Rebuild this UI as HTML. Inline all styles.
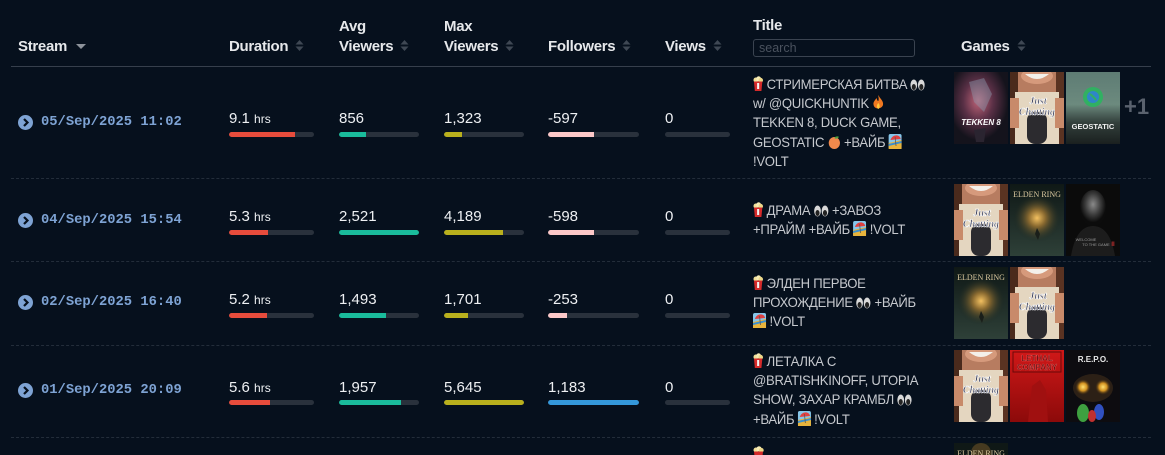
<!DOCTYPE html>
<html><head><meta charset="utf-8">
<style>
*{margin:0;padding:0;box-sizing:border-box}
html,body{width:1165px;height:455px;overflow:hidden;background:#06101d}
body{position:relative;font-family:"Liberation Sans","Noto Sans CJK SC",sans-serif;color:#e8eaed}
.a{position:absolute}
.h{position:absolute;font-weight:bold;font-size:15px;line-height:20px;color:#e6e8eb;white-space:nowrap;letter-spacing:-0.3px}
.si{display:inline-block;width:9px;height:13px;margin-left:7px;vertical-align:-1px}
.hl{position:absolute;left:11px;width:1140px;height:1px;background:#363f4c;top:66px}
.sep{position:absolute;left:11px;width:1140px;height:0;border-top:1px dashed #232d3a}
.dt{position:absolute;left:41px;font-family:"Liberation Mono",monospace;font-weight:bold;font-size:13.8px;line-height:16px;color:#7ea3d4;white-space:nowrap}
.ic{position:absolute;left:18px;width:15px;height:15px;border-radius:50%;background:#7ea3d4}
.ic svg{position:absolute;left:0;top:0}
.v{position:absolute;font-size:15px;line-height:18px;color:#eef0f3;white-space:nowrap}
.v small{font-size:12px}
.b{position:absolute;height:5px;border-radius:3px;background:#29313c;overflow:hidden}
.b i{display:block;height:5px;border-radius:3px 0 0 3px}
.t{position:absolute;left:753px;font-size:14px;line-height:19.2px;color:#c6c9ce;white-space:nowrap;letter-spacing:-0.3px;transform:scaleX(0.935);transform-origin:0 0}
.t svg{vertical-align:-2px}
.g{position:absolute;width:54px;height:72px;overflow:hidden}
.g svg{display:block}
</style></head><body>

<!-- header -->
<div class="h" style="left:18px;top:37px">Stream<svg class="si" style="width:11px;margin-left:9px" viewBox="0 0 11 13"><path d="M0 5 L10 5 L5 10 Z" fill="#8d939b"/></svg></div>
<div class="h" style="left:229px;top:37px">Duration<svg class="si" viewBox="0 0 9 13"><path d="M0.5 5.5 L8.5 5.5 L4.5 1 Z M0.5 7.5 L8.5 7.5 L4.5 12 Z" fill="#3f4854"/></svg></div>
<div class="h" style="left:339px;top:17px">Avg</div>
<div class="h" style="left:339px;top:37px">Viewers<svg class="si" viewBox="0 0 9 13"><path d="M0.5 5.5 L8.5 5.5 L4.5 1 Z M0.5 7.5 L8.5 7.5 L4.5 12 Z" fill="#3f4854"/></svg></div>
<div class="h" style="left:444px;top:17px">Max</div>
<div class="h" style="left:444px;top:37px">Viewers<svg class="si" viewBox="0 0 9 13"><path d="M0.5 5.5 L8.5 5.5 L4.5 1 Z M0.5 7.5 L8.5 7.5 L4.5 12 Z" fill="#3f4854"/></svg></div>
<div class="h" style="left:548px;top:37px">Followers<svg class="si" viewBox="0 0 9 13"><path d="M0.5 5.5 L8.5 5.5 L4.5 1 Z M0.5 7.5 L8.5 7.5 L4.5 12 Z" fill="#3f4854"/></svg></div>
<div class="h" style="left:665px;top:37px">Views<svg class="si" viewBox="0 0 9 13"><path d="M0.5 5.5 L8.5 5.5 L4.5 1 Z M0.5 7.5 L8.5 7.5 L4.5 12 Z" fill="#3f4854"/></svg></div>
<div class="h" style="left:753px;top:16px">Title</div>
<div class="a" style="left:753px;top:39px;width:162px;height:18px;border:1px solid #3a4350;border-radius:3px;font-size:12.5px;line-height:16px;color:#4a525e;padding-left:5px">search</div>
<div class="h" style="left:961px;top:37px">Games<svg class="si" viewBox="0 0 9 13"><path d="M0.5 5.5 L8.5 5.5 L4.5 1 Z M0.5 7.5 L8.5 7.5 L4.5 12 Z" fill="#3f4854"/></svg></div>
<div class="hl"></div>

<!-- separators -->
<div class="sep" style="top:178px"></div>
<div class="sep" style="top:261px"></div>
<div class="sep" style="top:345px"></div>
<div class="sep" style="top:437px"></div>

<!-- ===== ROW 1 (center 122) ===== -->
<div class="ic" style="top:115px"><svg width="15" height="15" viewBox="0 0 15 15"><path d="M6 4 L9.5 7.5 L6 11" stroke="#06101d" stroke-width="2.2" fill="none"/></svg></div>
<div class="dt" style="top:115px">05/Sep/2025 11:02</div>
<div class="v" style="left:229px;top:110px">9.1 <small>hrs</small></div>
<div class="b" style="left:229px;top:132px;width:85px"><i style="width:78%;background:#e74c3c"></i></div>
<div class="v" style="left:339px;top:110px">856</div>
<div class="b" style="left:339px;top:132px;width:80px"><i style="width:34%;background:#1abc9c"></i></div>
<div class="v" style="left:444px;top:110px">1,323</div>
<div class="b" style="left:444px;top:132px;width:80px"><i style="width:23%;background:#b9b01d"></i></div>
<div class="v" style="left:548px;top:110px">-597</div>
<div class="b" style="left:548px;top:132px;width:91px"><i style="width:50%;background:#fcc8c8"></i></div>
<div class="v" style="left:665px;top:110px">0</div>
<div class="b" style="left:665px;top:132px;width:65px"></div>

<div class="t" style="top:75px">
<svg width="11" height="15" viewBox="0 0 11 15"><circle cx="3" cy="4" r="2.5" fill="#f1e09a"/><circle cx="6" cy="2.8" r="2.6" fill="#f7ecb6"/><circle cx="8.3" cy="4.3" r="2.4" fill="#ecd88a"/><path d="M1 5.5 L10 5.5 L9 15 L2 15 Z" fill="#d42a2a"/><rect x="4.4" y="7" width="2.2" height="6" fill="#f2f2f2"/></svg> СТРИМЕРСКАЯ БИТВА <svg width="16" height="12" viewBox="0 0 16 12"><ellipse cx="4" cy="6" rx="3.6" ry="5.5" fill="#d8d8d8"/><ellipse cx="12" cy="6" rx="3.6" ry="5.5" fill="#d8d8d8"/><ellipse cx="4" cy="8" rx="2.2" ry="3" fill="#222"/><ellipse cx="12" cy="8" rx="2.2" ry="3" fill="#222"/></svg><br>
w/ @QUICKHUNTIK <svg width="12" height="15" viewBox="0 0 12 15"><path d="M6 0 C8 4 12 6 11 10 C10 14 2 15 1 10 C0 7 3 5 4 3 C5 5 5 6 6 6 C7 4 6 2 6 0 Z" fill="#f07820"/><path d="M6 8 C8 10 8 13 6 14 C4 13 4 10 6 8 Z" fill="#ffc83a"/></svg><br>
TEKKEN 8, DUCK GAME,<br>
GEOSTATIC <svg width="14" height="14" viewBox="0 0 14 14"><circle cx="7" cy="8" r="6" fill="#f0894c"/><path d="M7 3 C8 1 11 1 12 2 C10 4 8 4 7 3 Z" fill="#4fa040"/></svg> +ВАЙБ <svg width="14" height="15" viewBox="0 0 14 15"><rect x="0" y="0" width="14" height="15" rx="2" fill="#86c6ea"/><path d="M0 9 L14 6 L14 15 L0 15 Z" fill="#e8b43c"/><path d="M0 10 L14 7 L14 9 L0 12 Z" fill="#3a8fd0"/><path d="M2 6 C4 0 12 0 13 5 Z" fill="#e04040"/><path d="M7 3 L8 12" stroke="#555" stroke-width="0.8"/></svg><br>
!VOLT
</div>

<div class="g" style="left:954px;top:72px"><svg width="54" height="72" viewBox="0 0 54 72"><defs><radialGradient id="tk" cx="0.45" cy="0.4" r="0.55"><stop offset="0" stop-color="#c06478"/><stop offset="0.5" stop-color="#5a3046"/><stop offset="1" stop-color="#14131c"/></radialGradient></defs><rect width="54" height="72" fill="url(#tk)"/><path d="M15 10 L30 6 L38 22 L30 40 L20 30 Z" fill="#8b9aac" opacity="0.45"/><text x="27" y="53" font-family="Liberation Sans" font-weight="bold" font-style="italic" font-size="8" fill="#ffffff" text-anchor="middle">TEKKEN 8</text><path d="M20 58 L32 56 L30 70 L22 70 Z" fill="#2a2430"/></svg></div>
<div class="g" style="left:1010px;top:72px"><svg width="54" height="72" viewBox="0 0 54 72"><rect width="54" height="72" fill="#b77c60"/><rect width="8" height="72" fill="#4a2a1c"/><rect x="46" width="8" height="72" fill="#5a3322"/><ellipse cx="27" cy="4" rx="16" ry="8" fill="#d69a7c"/><path d="M15 2 Q27 12 39 2 Z" fill="#f4f0ea"/><rect x="5" y="20" width="44" height="52" fill="#e4d6c0"/><rect x="0" y="26" width="9" height="30" fill="#c88a6a"/><rect x="45" y="26" width="9" height="30" fill="#c88a6a"/><rect x="17" y="40" width="20" height="32" rx="8" fill="#2c2b2f"/><text x="28" y="32" font-family="Liberation Serif" font-style="italic" font-weight="bold" font-size="10" fill="#2a3050" stroke="#ffffff" stroke-width="0.5" text-anchor="middle">Just</text><text x="27" y="43" font-family="Liberation Serif" font-style="italic" font-weight="bold" font-size="10" fill="#2a3050" stroke="#ffffff" stroke-width="0.5" text-anchor="middle">Chatting</text></svg></div>
<div class="g" style="left:1066px;top:72px"><svg width="54" height="72" viewBox="0 0 54 72"><defs><linearGradient id="geo" x1="0" y1="0" x2="0" y2="1"><stop offset="0" stop-color="#5e7c74"/><stop offset="0.45" stop-color="#6c8a7e"/><stop offset="0.7" stop-color="#33403c"/><stop offset="1" stop-color="#1a201f"/></linearGradient></defs><rect width="54" height="72" fill="url(#geo)"/><circle cx="27" cy="25" r="10" fill="#31b062"/><circle cx="27" cy="25" r="6" fill="#2f86c8"/><path d="M24 22 Q28 25 30 28" stroke="#31b062" stroke-width="2" fill="none"/><text x="27" y="57" font-family="Liberation Sans" font-weight="bold" font-size="7.5" fill="#f0f0f0" text-anchor="middle">GEOSTATIC</text></svg></div>
<div class="a" style="left:1124px;top:94px;font-size:22px;line-height:26px;font-weight:bold;color:#5a626e">+1</div>

<!-- ===== ROW 2 (center 220) ===== -->
<div class="ic" style="top:213px"><svg width="15" height="15" viewBox="0 0 15 15"><path d="M6 4 L9.5 7.5 L6 11" stroke="#06101d" stroke-width="2.2" fill="none"/></svg></div>
<div class="dt" style="top:213px">04/Sep/2025 15:54</div>
<div class="v" style="left:229px;top:208px">5.3 <small>hrs</small></div>
<div class="b" style="left:229px;top:230px;width:85px"><i style="width:46%;background:#e74c3c"></i></div>
<div class="v" style="left:339px;top:208px">2,521</div>
<div class="b" style="left:339px;top:230px;width:80px"><i style="width:100%;background:#1abc9c;border-radius:3px"></i></div>
<div class="v" style="left:444px;top:208px">4,189</div>
<div class="b" style="left:444px;top:230px;width:80px"><i style="width:74%;background:#b9b01d"></i></div>
<div class="v" style="left:548px;top:208px">-598</div>
<div class="b" style="left:548px;top:230px;width:91px"><i style="width:50%;background:#fcc8c8"></i></div>
<div class="v" style="left:665px;top:208px">0</div>
<div class="b" style="left:665px;top:230px;width:65px"></div>

<div class="t" style="top:201px">
<svg width="11" height="15" viewBox="0 0 11 15"><circle cx="3" cy="4" r="2.5" fill="#f1e09a"/><circle cx="6" cy="2.8" r="2.6" fill="#f7ecb6"/><circle cx="8.3" cy="4.3" r="2.4" fill="#ecd88a"/><path d="M1 5.5 L10 5.5 L9 15 L2 15 Z" fill="#d42a2a"/><rect x="4.4" y="7" width="2.2" height="6" fill="#f2f2f2"/></svg> ДРАМА <svg width="16" height="12" viewBox="0 0 16 12"><ellipse cx="4" cy="6" rx="3.6" ry="5.5" fill="#d8d8d8"/><ellipse cx="12" cy="6" rx="3.6" ry="5.5" fill="#d8d8d8"/><ellipse cx="4" cy="8" rx="2.2" ry="3" fill="#222"/><ellipse cx="12" cy="8" rx="2.2" ry="3" fill="#222"/></svg> +ЗАВОЗ<br>
+ПРАЙМ +ВАЙБ <svg width="14" height="15" viewBox="0 0 14 15"><rect x="0" y="0" width="14" height="15" rx="2" fill="#86c6ea"/><path d="M0 9 L14 6 L14 15 L0 15 Z" fill="#e8b43c"/><path d="M0 10 L14 7 L14 9 L0 12 Z" fill="#3a8fd0"/><path d="M2 6 C4 0 12 0 13 5 Z" fill="#e04040"/><path d="M7 3 L8 12" stroke="#555" stroke-width="0.8"/></svg> !VOLT
</div>

<div class="g" style="left:954px;top:184px"><svg width="54" height="72" viewBox="0 0 54 72"><rect width="54" height="72" fill="#b77c60"/><rect width="8" height="72" fill="#4a2a1c"/><rect x="46" width="8" height="72" fill="#5a3322"/><ellipse cx="27" cy="4" rx="16" ry="8" fill="#d69a7c"/><path d="M15 2 Q27 12 39 2 Z" fill="#f4f0ea"/><rect x="5" y="20" width="44" height="52" fill="#e4d6c0"/><rect x="0" y="26" width="9" height="30" fill="#c88a6a"/><rect x="45" y="26" width="9" height="30" fill="#c88a6a"/><rect x="17" y="40" width="20" height="32" rx="8" fill="#2c2b2f"/><text x="28" y="32" font-family="Liberation Serif" font-style="italic" font-weight="bold" font-size="10" fill="#2a3050" stroke="#ffffff" stroke-width="0.5" text-anchor="middle">Just</text><text x="27" y="43" font-family="Liberation Serif" font-style="italic" font-weight="bold" font-size="10" fill="#2a3050" stroke="#ffffff" stroke-width="0.5" text-anchor="middle">Chatting</text></svg></div>
<div class="g" style="left:1010px;top:184px"><svg width="54" height="72" viewBox="0 0 54 72"><defs><radialGradient id="er1" cx="0.5" cy="0.5" r="0.5"><stop offset="0" stop-color="#f3c060"/><stop offset="0.35" stop-color="#8a6a30"/><stop offset="1" stop-color="#17241f" stop-opacity="0"/></radialGradient><linearGradient id="erb" x1="0" y1="0" x2="0" y2="1"><stop offset="0" stop-color="#0f1816"/><stop offset="1" stop-color="#2e4038"/></linearGradient></defs><rect width="54" height="72" fill="url(#erb)"/><circle cx="27" cy="34" r="24" fill="url(#er1)"/><text x="27" y="13" font-family="Liberation Serif" font-size="8" fill="#dccaa0" text-anchor="middle">ELDEN RING</text><path d="M25 50 L27 44 L30 50 L28 56 Z" fill="#1a1f1a"/></svg></div>
<div class="g" style="left:1066px;top:184px"><svg width="54" height="72" viewBox="0 0 54 72"><defs><radialGradient id="wf" cx="0.5" cy="0.4" r="0.5"><stop offset="0" stop-color="#8a8a8a"/><stop offset="0.6" stop-color="#3a3a3a"/><stop offset="1" stop-color="#0c0c0c"/></radialGradient></defs><rect width="54" height="72" fill="#0b0b0b"/><ellipse cx="27" cy="24" rx="13" ry="18" fill="url(#wf)"/><path d="M5 72 Q10 42 27 42 Q44 42 49 72 Z" fill="#1c1c1c"/><text x="20" y="57" font-family="Liberation Sans" font-size="4" fill="#9a9a9a" text-anchor="middle">WELCOME</text><text x="30" y="62" font-family="Liberation Sans" font-size="4" fill="#9a9a9a" text-anchor="middle">TO THE GAME</text><text x="47" y="62" font-family="Liberation Sans" font-weight="bold" font-size="6" fill="#c03030" text-anchor="middle">II</text></svg></div>

<!-- ===== ROW 3 (center 303) ===== -->
<div class="ic" style="top:295px"><svg width="15" height="15" viewBox="0 0 15 15"><path d="M6 4 L9.5 7.5 L6 11" stroke="#06101d" stroke-width="2.2" fill="none"/></svg></div>
<div class="dt" style="top:295px">02/Sep/2025 16:40</div>
<div class="v" style="left:229px;top:291px">5.2 <small>hrs</small></div>
<div class="b" style="left:229px;top:313px;width:85px"><i style="width:45%;background:#e74c3c"></i></div>
<div class="v" style="left:339px;top:291px">1,493</div>
<div class="b" style="left:339px;top:313px;width:80px"><i style="width:59%;background:#1abc9c"></i></div>
<div class="v" style="left:444px;top:291px">1,701</div>
<div class="b" style="left:444px;top:313px;width:80px"><i style="width:30%;background:#b9b01d"></i></div>
<div class="v" style="left:548px;top:291px">-253</div>
<div class="b" style="left:548px;top:313px;width:91px"><i style="width:21%;background:#fcc8c8"></i></div>
<div class="v" style="left:665px;top:291px">0</div>
<div class="b" style="left:665px;top:313px;width:65px"></div>

<div class="t" style="top:274px">
<svg width="11" height="15" viewBox="0 0 11 15"><circle cx="3" cy="4" r="2.5" fill="#f1e09a"/><circle cx="6" cy="2.8" r="2.6" fill="#f7ecb6"/><circle cx="8.3" cy="4.3" r="2.4" fill="#ecd88a"/><path d="M1 5.5 L10 5.5 L9 15 L2 15 Z" fill="#d42a2a"/><rect x="4.4" y="7" width="2.2" height="6" fill="#f2f2f2"/></svg> ЭЛДЕН ПЕРВОЕ<br>
ПРОХОЖДЕНИЕ <svg width="16" height="12" viewBox="0 0 16 12"><ellipse cx="4" cy="6" rx="3.6" ry="5.5" fill="#d8d8d8"/><ellipse cx="12" cy="6" rx="3.6" ry="5.5" fill="#d8d8d8"/><ellipse cx="4" cy="8" rx="2.2" ry="3" fill="#222"/><ellipse cx="12" cy="8" rx="2.2" ry="3" fill="#222"/></svg> +ВАЙБ<br>
<svg width="14" height="15" viewBox="0 0 14 15"><rect x="0" y="0" width="14" height="15" rx="2" fill="#86c6ea"/><path d="M0 9 L14 6 L14 15 L0 15 Z" fill="#e8b43c"/><path d="M0 10 L14 7 L14 9 L0 12 Z" fill="#3a8fd0"/><path d="M2 6 C4 0 12 0 13 5 Z" fill="#e04040"/><path d="M7 3 L8 12" stroke="#555" stroke-width="0.8"/></svg> !VOLT
</div>

<div class="g" style="left:954px;top:267px"><svg width="54" height="72" viewBox="0 0 54 72"><defs><radialGradient id="er2" cx="0.5" cy="0.5" r="0.5"><stop offset="0" stop-color="#f3c060"/><stop offset="0.35" stop-color="#8a6a30"/><stop offset="1" stop-color="#17241f" stop-opacity="0"/></radialGradient><linearGradient id="erb2" x1="0" y1="0" x2="0" y2="1"><stop offset="0" stop-color="#0f1816"/><stop offset="1" stop-color="#2e4038"/></linearGradient></defs><rect width="54" height="72" fill="url(#erb2)"/><circle cx="27" cy="34" r="24" fill="url(#er2)"/><text x="27" y="13" font-family="Liberation Serif" font-size="8" fill="#dccaa0" text-anchor="middle">ELDEN RING</text><path d="M25 50 L27 44 L30 50 L28 56 Z" fill="#1a1f1a"/></svg></div>
<div class="g" style="left:1010px;top:267px"><svg width="54" height="72" viewBox="0 0 54 72"><rect width="54" height="72" fill="#b77c60"/><rect width="8" height="72" fill="#4a2a1c"/><rect x="46" width="8" height="72" fill="#5a3322"/><ellipse cx="27" cy="4" rx="16" ry="8" fill="#d69a7c"/><path d="M15 2 Q27 12 39 2 Z" fill="#f4f0ea"/><rect x="5" y="20" width="44" height="52" fill="#e4d6c0"/><rect x="0" y="26" width="9" height="30" fill="#c88a6a"/><rect x="45" y="26" width="9" height="30" fill="#c88a6a"/><rect x="17" y="40" width="20" height="32" rx="8" fill="#2c2b2f"/><text x="28" y="32" font-family="Liberation Serif" font-style="italic" font-weight="bold" font-size="10" fill="#2a3050" stroke="#ffffff" stroke-width="0.5" text-anchor="middle">Just</text><text x="27" y="43" font-family="Liberation Serif" font-style="italic" font-weight="bold" font-size="10" fill="#2a3050" stroke="#ffffff" stroke-width="0.5" text-anchor="middle">Chatting</text></svg></div>

<!-- ===== ROW 4 (center 390) ===== -->
<div class="ic" style="top:383px"><svg width="15" height="15" viewBox="0 0 15 15"><path d="M6 4 L9.5 7.5 L6 11" stroke="#06101d" stroke-width="2.2" fill="none"/></svg></div>
<div class="dt" style="top:383px">01/Sep/2025 20:09</div>
<div class="v" style="left:229px;top:379px">5.6 <small>hrs</small></div>
<div class="b" style="left:229px;top:400px;width:85px"><i style="width:48%;background:#e74c3c"></i></div>
<div class="v" style="left:339px;top:379px">1,957</div>
<div class="b" style="left:339px;top:400px;width:80px"><i style="width:78%;background:#1abc9c"></i></div>
<div class="v" style="left:444px;top:379px">5,645</div>
<div class="b" style="left:444px;top:400px;width:80px"><i style="width:100%;background:#b9b01d;border-radius:3px"></i></div>
<div class="v" style="left:548px;top:379px">1,183</div>
<div class="b" style="left:548px;top:400px;width:91px"><i style="width:100%;background:#3498db;border-radius:3px"></i></div>
<div class="v" style="left:665px;top:379px">0</div>
<div class="b" style="left:665px;top:400px;width:65px"></div>

<div class="t" style="top:352px">
<svg width="11" height="15" viewBox="0 0 11 15"><circle cx="3" cy="4" r="2.5" fill="#f1e09a"/><circle cx="6" cy="2.8" r="2.6" fill="#f7ecb6"/><circle cx="8.3" cy="4.3" r="2.4" fill="#ecd88a"/><path d="M1 5.5 L10 5.5 L9 15 L2 15 Z" fill="#d42a2a"/><rect x="4.4" y="7" width="2.2" height="6" fill="#f2f2f2"/></svg> ЛЕТАЛКА С<br>
@BRATISHKINOFF, UTOPIA<br>
SHOW, ЗАХАР КРАМБЛ <svg width="16" height="12" viewBox="0 0 16 12"><ellipse cx="4" cy="6" rx="3.6" ry="5.5" fill="#d8d8d8"/><ellipse cx="12" cy="6" rx="3.6" ry="5.5" fill="#d8d8d8"/><ellipse cx="4" cy="8" rx="2.2" ry="3" fill="#222"/><ellipse cx="12" cy="8" rx="2.2" ry="3" fill="#222"/></svg><br>
+ВАЙБ <svg width="14" height="15" viewBox="0 0 14 15"><rect x="0" y="0" width="14" height="15" rx="2" fill="#86c6ea"/><path d="M0 9 L14 6 L14 15 L0 15 Z" fill="#e8b43c"/><path d="M0 10 L14 7 L14 9 L0 12 Z" fill="#3a8fd0"/><path d="M2 6 C4 0 12 0 13 5 Z" fill="#e04040"/><path d="M7 3 L8 12" stroke="#555" stroke-width="0.8"/></svg> !VOLT
</div>

<div class="g" style="left:954px;top:350px"><svg width="54" height="72" viewBox="0 0 54 72"><rect width="54" height="72" fill="#b77c60"/><rect width="8" height="72" fill="#4a2a1c"/><rect x="46" width="8" height="72" fill="#5a3322"/><ellipse cx="27" cy="4" rx="16" ry="8" fill="#d69a7c"/><path d="M15 2 Q27 12 39 2 Z" fill="#f4f0ea"/><rect x="5" y="20" width="44" height="52" fill="#e4d6c0"/><rect x="0" y="26" width="9" height="30" fill="#c88a6a"/><rect x="45" y="26" width="9" height="30" fill="#c88a6a"/><rect x="17" y="40" width="20" height="32" rx="8" fill="#2c2b2f"/><text x="28" y="32" font-family="Liberation Serif" font-style="italic" font-weight="bold" font-size="10" fill="#2a3050" stroke="#ffffff" stroke-width="0.5" text-anchor="middle">Just</text><text x="27" y="43" font-family="Liberation Serif" font-style="italic" font-weight="bold" font-size="10" fill="#2a3050" stroke="#ffffff" stroke-width="0.5" text-anchor="middle">Chatting</text></svg></div>
<div class="g" style="left:1010px;top:350px"><svg width="54" height="72" viewBox="0 0 54 72"><defs><linearGradient id="lc" x1="0" y1="0" x2="0" y2="1"><stop offset="0" stop-color="#d01818"/><stop offset="1" stop-color="#8c0a0a"/></linearGradient></defs><rect width="54" height="72" fill="url(#lc)"/><rect x="3" y="2" width="48" height="20" fill="none" stroke="#6a0808" stroke-width="1"/><text x="27" y="11" font-family="Liberation Sans" font-weight="bold" font-size="8" fill="#5a0606" stroke="#ff7070" stroke-width="0.3" text-anchor="middle">LETHAL</text><text x="27" y="20" font-family="Liberation Sans" font-weight="bold" font-size="8" fill="#5a0606" stroke="#ff7070" stroke-width="0.3" text-anchor="middle">COMPANY</text><path d="M18 72 L22 36 L30 30 L36 40 L38 72 Z" fill="#a01010"/></svg></div>
<div class="g" style="left:1066px;top:350px"><svg width="54" height="72" viewBox="0 0 54 72"><defs><radialGradient id="rg" cx="0.5" cy="0.5" r="0.5"><stop offset="0" stop-color="#ffe070"/><stop offset="0.5" stop-color="#d09020"/><stop offset="1" stop-color="#302010" stop-opacity="0"/></radialGradient></defs><rect width="54" height="72" fill="#0d0c10"/><text x="27" y="12" font-family="Liberation Sans" font-weight="bold" font-size="8" fill="#e8e8e8" text-anchor="middle">R.E.P.O.</text><ellipse cx="27" cy="38" rx="20" ry="14" fill="#3a2a1a" opacity="0.7"/><circle cx="17" cy="37" r="8" fill="url(#rg)"/><circle cx="37" cy="37" r="8" fill="url(#rg)"/><ellipse cx="17" cy="63" rx="6" ry="9" fill="#3ea040"/><ellipse cx="33" cy="62" rx="5" ry="8" fill="#3050c0"/><ellipse cx="26" cy="66" rx="4" ry="6" fill="#c03030"/></svg></div>

<!-- ===== ROW 5 (partial) ===== -->
<div class="a" style="left:753px;top:446px;width:12px;height:9px;overflow:hidden"><svg width="11" height="15" viewBox="0 0 11 15" style="display:block"><circle cx="3" cy="4" r="2.5" fill="#f1e09a"/><circle cx="6" cy="2.8" r="2.6" fill="#f7ecb6"/><circle cx="8.3" cy="4.3" r="2.4" fill="#ecd88a"/><path d="M1 5.5 L10 5.5 L9 15 L2 15 Z" fill="#d42a2a"/></svg></div>
<div class="g" style="left:954px;top:443px;height:12px"><svg width="54" height="12" viewBox="0 0 54 12"><rect width="54" height="12" fill="#0f1816"/><circle cx="27" cy="10" r="10" fill="#6a5228" opacity="0.6"/><text x="27" y="13" font-family="Liberation Serif" font-size="8" fill="#dccaa0" text-anchor="middle">ELDEN RING</text></svg></div>

</body></html>
